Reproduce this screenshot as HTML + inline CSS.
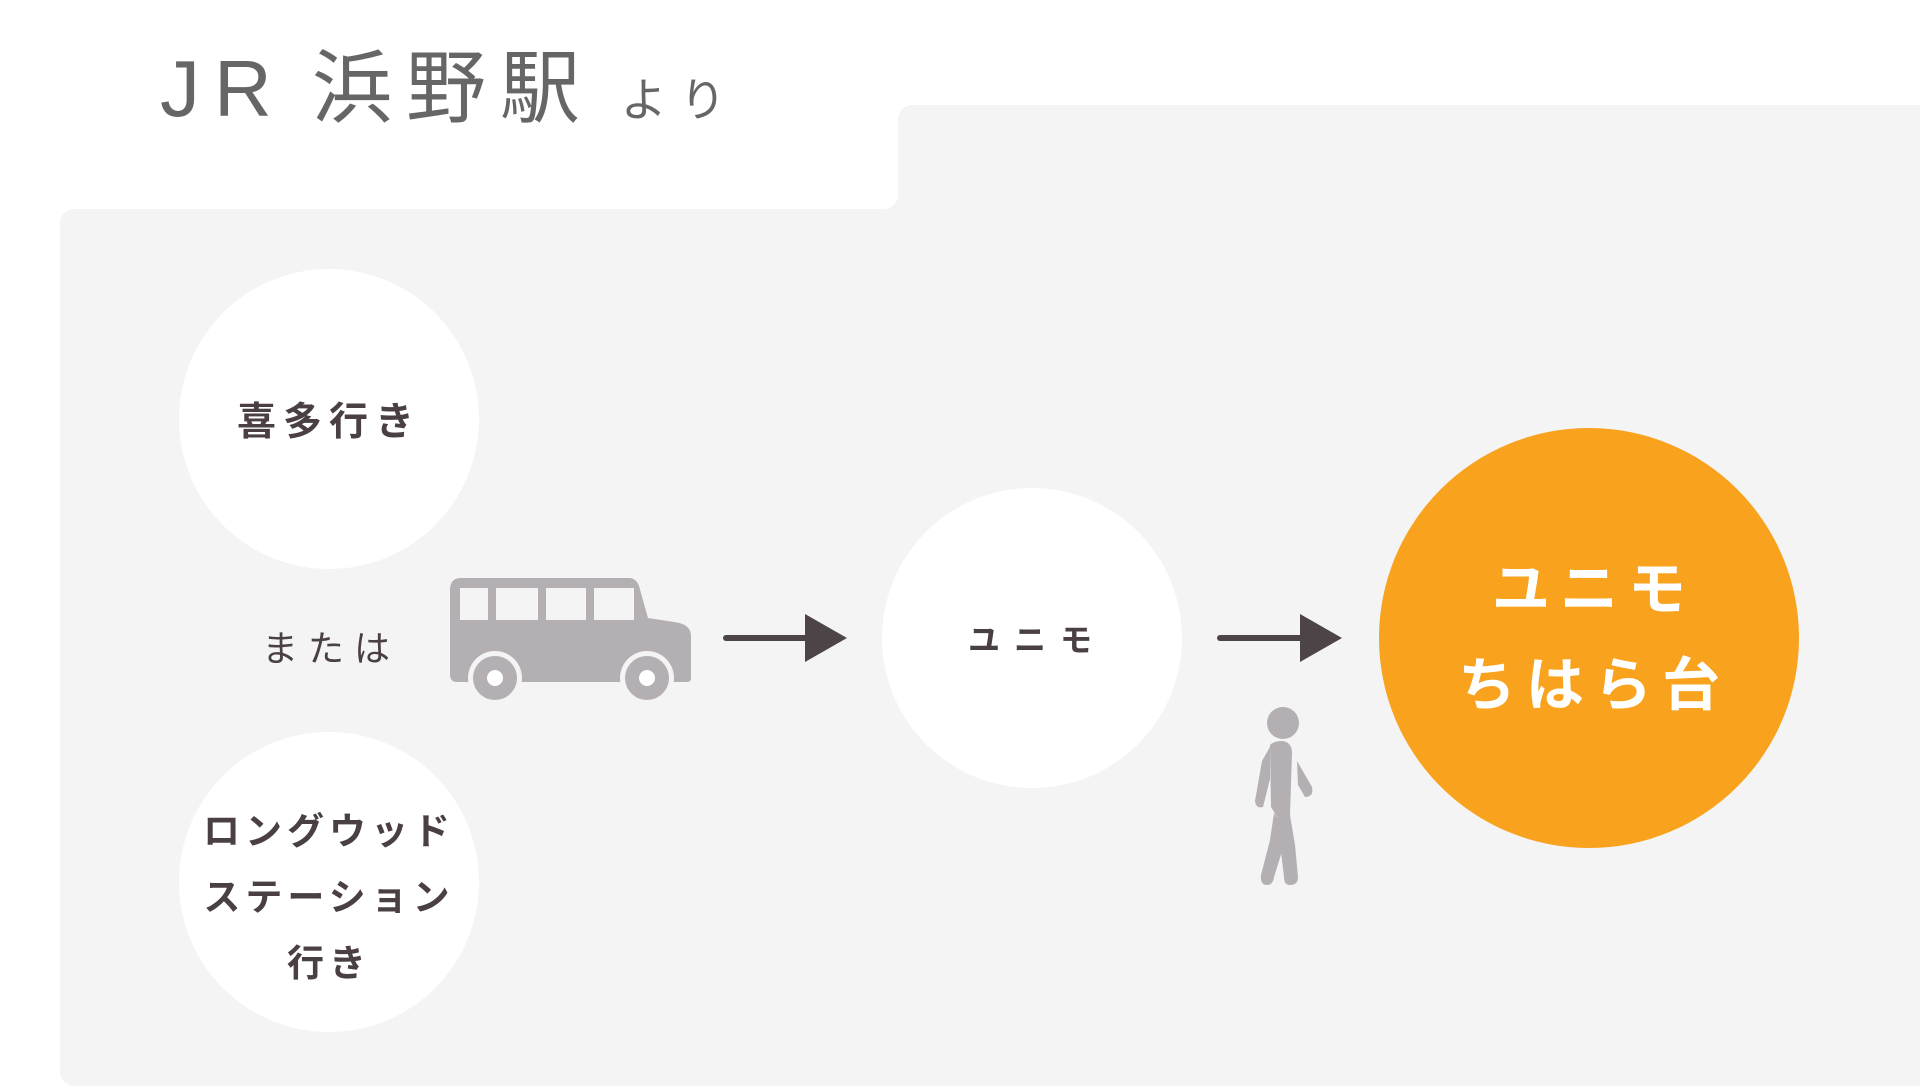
<!DOCTYPE html>
<html><head><meta charset="utf-8"><style>
body{margin:0;width:1920px;height:1089px;background:#fff;position:relative;overflow:hidden;font-family:"Liberation Sans","Noto Sans CJK JP",sans-serif}
.a{position:absolute}
.c{position:absolute;border-radius:50%;background:#fff;display:flex;align-items:center;justify-content:center;text-align:center;color:#4a4044;font-weight:bold}
</style></head><body>
<div class="a" style="left:60px;top:209px;width:1870px;height:877px;background:#f4f4f4;border-radius:14px"></div>
<div class="a" style="left:898px;top:105px;width:1040px;height:200px;background:#f4f4f4;border-radius:14px"></div>
<div class="a" style="left:870px;top:180px;width:40px;height:40px;background:#f4f4f4"></div>
<div class="a" style="left:0;top:0;width:898px;height:209px;background:#fff;border-radius:0 0 14px 0"></div>
<div class="a" style="left:160px;top:24px;color:#666;font-size:80px;letter-spacing:14px;white-space:nowrap">JR<span style="letter-spacing:4px"> </span>浜野駅<span style="font-size:46px;letter-spacing:14px"> より</span></div>
<div class="c" style="left:179px;top:269px;width:300px;height:300px;font-size:39px;letter-spacing:7px">喜多行き</div>
<div class="c" style="left:179px;top:732px;width:300px;height:300px;font-size:37px;line-height:66px;letter-spacing:5px;padding-top:32px;box-sizing:border-box">ロングウッド<br>ステーション<br>行き</div>
<div class="a" style="left:262px;top:620px;font-size:36px;color:#4a4044;letter-spacing:10px">または</div>
<svg class="a" style="left:449px;top:578px" width="245" height="125" viewBox="0 0 245 125">
<path d="M12 0H180Q187 0 190 8L199 40L225 44Q242 46 242 58V100Q242 104 238 104H8Q1 104 1 96V12Q1 0 12 0Z" fill="#b3afb2"/>
<g fill="#f4f4f4"><rect x="11" y="10" width="28" height="32"/><rect x="47" y="10" width="42" height="32"/><rect x="97" y="10" width="40" height="32"/><rect x="145" y="10" width="40" height="32"/></g>
<circle cx="46" cy="100" r="27" fill="#f4f4f4"/><circle cx="46" cy="100" r="22" fill="#b3afb2"/><circle cx="46" cy="100" r="8" fill="#fff"/>
<circle cx="198" cy="100" r="27" fill="#f4f4f4"/><circle cx="198" cy="100" r="22" fill="#b3afb2"/><circle cx="198" cy="100" r="8" fill="#fff"/>
</svg>
<svg class="a" style="left:720px;top:610px" width="640" height="56">
<line x1="6" y1="28" x2="90" y2="28" stroke="#4d4448" stroke-width="6" stroke-linecap="round"/>
<polygon points="85,4 127,28 85,52" fill="#4d4448"/>
<line x1="500" y1="28" x2="585" y2="28" stroke="#4d4448" stroke-width="6" stroke-linecap="round"/>
<polygon points="580,4 622,28 580,52" fill="#4d4448"/>
</svg>
<div class="c" style="left:882px;top:488px;width:300px;height:300px;font-size:32px;letter-spacing:14px;padding-left:10px;box-sizing:border-box">ユニモ</div>
<svg class="a" style="left:1240px;top:705px" width="80" height="185" viewBox="0 0 80 185">
<circle cx="43" cy="18" r="16" fill="#b3afb2"/>
<path d="M30 40Q34 36 42 36Q52 37 52 48L50 110L55 140L58 172Q58 180 50 180Q44 180 44 172L40 138L37 112L31 102Z" fill="#b3afb2"/>
<path d="M30 42L22 56L15 96Q16 104 23 102L30 74Z" fill="#b3afb2"/>
<path d="M57 56L72 82Q74 92 65 92L58 80Z" fill="#b3afb2"/>
<path d="M34 108L30 135L21 170Q20 180 27 180Q33 180 34 172L44 140L42 120Z" fill="#b3afb2"/>
</svg>
<div class="c" style="left:1379px;top:428px;width:420px;height:420px;background:#f8a21d;color:#fff;font-size:58px;line-height:96px;letter-spacing:10px;padding-left:10px;box-sizing:border-box">ユニモ<br>ちはら台</div>
</body></html>
